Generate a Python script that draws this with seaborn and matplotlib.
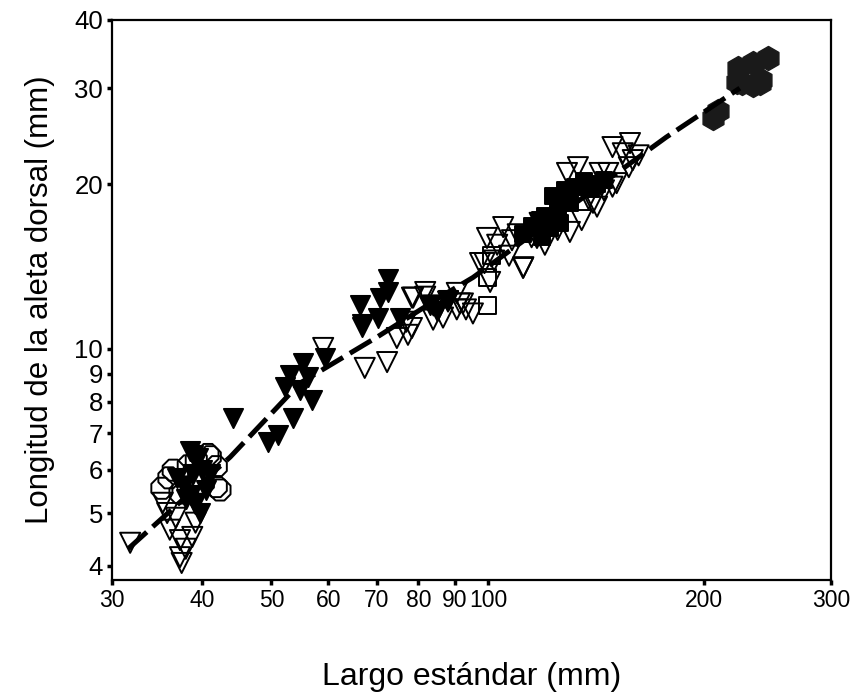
import numpy as np
import pandas as pd
import matplotlib
matplotlib.use("Agg")
import matplotlib.pyplot as plt
import seaborn as sns

# ---- data (x: Largo estándar mm, y: Longitud aleta dorsal mm) ----
open_tri_x = [31.8, 35.3, 36.1, 37.3, 37.3, 37.5, 38.8, 39.2, 35.8, 38.0, 36.8,
              59.0, 67.4, 72.4, 74.7, 77.4, 78.4, 78.4, 81.8, 81.8, 83.9, 86.6, 90.5,
              90.5, 92.3, 93.2, 95.3, 97.5, 84.0, 88.0, 78.7, 91.4, 77.0,
              99.7, 98.9, 100.7, 105.0, 111.9, 107.0, 103.0, 110.0, 115.0, 117.0,
              120.0, 125.0, 128.8, 133.4, 130.0, 135.0, 138.0, 141.8, 143.0, 147.0,
              151.0, 159.0, 162.0, 149.0, 157.6, 154.0, 157.0, 140.0, 145.0, 125.0,
              118.0, 102.0, 108.0, 149.0, 112.0]
open_tri_y = [4.41, 5.22, 4.66, 4.46, 4.15, 4.05, 4.52, 4.80, 5.00, 4.30, 4.90,
              10.03, 9.22, 9.45, 10.46, 10.6, 10.91, 12.4, 12.7, 12.45, 11.3, 11.4, 12.65,
              11.8, 12.1, 11.8, 11.6, 14.35, 12.0, 12.2, 12.4, 12.1, 11.2,
              15.95, 14.35, 13.25, 16.7, 14.05, 14.8, 15.5, 16.2, 16.0, 15.95,
              15.5, 16.5, 20.98, 21.5, 16.36, 17.2, 18.8, 18.2, 20.98, 20.98,
              20.1, 22.15, 22.6, 23.4, 23.8, 22.8, 21.5, 18.5, 19.5, 18.2,
              17.0, 14.5, 15.8, 19.8, 14.1]

filled_tri_x = [38.5, 39.5, 38.9, 37.8, 39.2, 40.5, 41.0, 38.0, 40.0, 39.8, 37.0, 38.6, 38.9,
                44.2, 49.4, 51.1, 53.6, 52.2, 53.0, 55.3, 56.2, 54.8, 56.9, 59.3,
                66.4, 66.8, 66.8, 70.3, 70.8, 72.6, 72.6, 75.4, 83.0, 85.0, 88.0]
filled_tri_y = [6.50, 6.30, 5.90, 5.60, 5.20, 5.50, 5.90, 5.30, 6.00, 5.00, 5.80, 5.40, 6.39,
                7.46, 6.75, 6.95, 7.46, 8.51, 8.95, 9.41, 8.87, 8.40, 8.05, 9.62,
                12.0, 11.1, 10.96, 11.4, 12.4, 13.4, 12.7, 11.4, 12.0, 11.7, 12.3]

filled_sq_x = [112, 115, 118, 120, 122, 125, 126, 123, 128, 132, 136, 139, 142, 145, 130, 119]
filled_sq_y = [16.2, 16.8, 17.2, 17.5, 16.6, 17.8, 17.0, 19.0, 19.5, 19.8, 20.3, 19.6, 20.0, 20.4, 18.5, 16.0]

open_sq_x = [100, 100, 101]
open_sq_y = [12.0, 13.5, 14.8]

oct_x = [35.2, 36.5, 37.3, 39.3, 40.2, 41.1, 41.9, 41.9, 42.4, 38.3, 39.6, 40.8, 36.0]
oct_y = [5.55, 5.99, 5.44, 6.25, 5.67, 6.34, 6.08, 5.59, 5.51, 6.10, 5.80, 6.40, 5.80]

hex_x = [205.6, 209.0, 222.7, 233.7, 245.0, 225.6, 233.7, 239.0, 222.0, 240.0]
hex_y = [26.5, 27.2, 32.7, 33.4, 34.1, 30.7, 30.4, 30.7, 30.8, 31.0]

fit_x = [31.6, 43.8, 54.8, 70.1, 87.7, 95.3, 177.0, 224.0]
fit_y = [4.30, 6.33, 8.65, 10.5, 12.65, 13.5, 24.4, 30.0]

x_ticks = [30, 40, 50, 60, 70, 80, 90, 100, 200, 300]
y_ticks = [4, 5, 6, 7, 8, 9, 10, 20, 30, 40]

# ---- figure ----
sns.set_theme(style="white")
plt.rcParams['font.family'] = ['Liberation Sans', 'DejaVu Sans']

fig = plt.figure(figsize=(8.54, 6.98), dpi=100)
ax = fig.add_axes([0.1311, 0.1691, 0.842, 0.8023])

ec = dict(edgecolor="black", linewidth=1.4)
sns.scatterplot(x=open_tri_x, y=open_tri_y, marker="v", s=210,
                facecolor="none", ax=ax, zorder=3, **ec)
sns.scatterplot(x=filled_tri_x, y=filled_tri_y, marker="v", s=190,
                color="black", ax=ax, zorder=3, **ec)
sns.scatterplot(x=oct_x, y=oct_y, marker="8", s=270,
                facecolor="none", ax=ax, zorder=3, **ec)
sns.scatterplot(x=filled_sq_x, y=filled_sq_y, marker="s", s=130,
                color="black", ax=ax, zorder=3, **ec)
sns.scatterplot(x=open_sq_x, y=open_sq_y, marker="s", s=150,
                facecolor="none", ax=ax, zorder=3, **ec)
sns.scatterplot(x=hex_x, y=hex_y, marker="h", s=300,
                color="#1a1a1a", ax=ax, zorder=3, edgecolor="#1a1a1a", linewidth=1.0)

sns.lineplot(x=fit_x, y=fit_y, sort=False, estimator=None, color="black",
             linewidth=3.6, ax=ax, zorder=4, dashes=False)
ax.lines[-1].set_dashes((5, 1.6))
ax.lines[-1].set_solid_capstyle("butt")

ax.set_xscale("log")
ax.set_yscale("log")
ax.set_xlim(30, 300)
ax.set_ylim(3.77, 40)

ax.xaxis.set_major_locator(matplotlib.ticker.FixedLocator(x_ticks))
ax.yaxis.set_major_locator(matplotlib.ticker.FixedLocator(y_ticks))
ax.xaxis.set_minor_locator(matplotlib.ticker.NullLocator())
ax.yaxis.set_minor_locator(matplotlib.ticker.NullLocator())
ax.set_xticklabels([str(v) for v in x_ticks])
ax.set_yticklabels([str(v) for v in y_ticks])

for lab in ax.get_xticklabels():
    lab.set_fontsize(16.5)
    lab.set_color("black")
for lab in ax.get_yticklabels():
    lab.set_fontsize(18.5)
    lab.set_color("black")

ax.tick_params(axis="both", which="major", direction="out", length=3.5, width=2.5,
               color="black", pad=3, bottom=True, left=True)

for sp in ax.spines.values():
    sp.set_visible(True)
    sp.set_color("black")
    sp.set_linewidth(1.6)

ax.set_xlabel("Largo estándar (mm)", fontsize=23, labelpad=36, color="black")
ax.set_ylabel("Longitud de la aleta dorsal (mm)", fontsize=22.5, labelpad=14, color="black")
ax.grid(False)

fig.savefig("out.png", dpi=100, facecolor="white")
